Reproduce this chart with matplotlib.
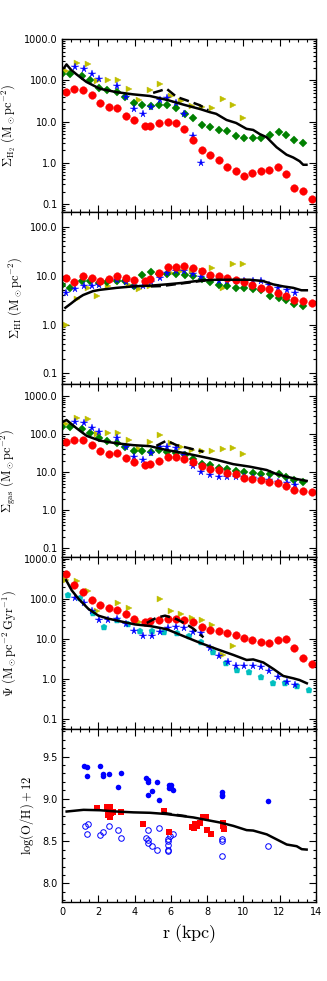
import numpy as np
import matplotlib
matplotlib.use("Agg")
import matplotlib.pyplot as plt
from matplotlib.ticker import FixedLocator, FormatStrFormatter, MultipleLocator, LogLocator, NullFormatter

plt.rcParams['mathtext.fontset'] = 'cm'

# radii of the point sets (kpc)
r_red = [0.2, 0.68, 1.16, 1.64, 2.08, 2.56, 3.02, 3.5, 3.95, 4.56, 4.87, 5.35, 5.83, 6.31, 6.75,
         7.21, 7.69, 8.15, 8.63, 9.1, 9.57, 10.05, 10.5, 10.98, 11.44, 11.92, 12.36, 12.82, 13.3, 13.78]
r_yel = [0.2, 0.83, 1.4, 1.95, 2.52, 3.1, 3.67, 4.25, 4.84, 5.41, 5.98, 6.57, 7.14, 7.71, 8.28, 8.85, 9.42, 10.0]
r_yel_sfr = [0.2, 0.83, 1.4, 1.95, 3.1, 3.67, 4.25, 5.41, 5.98, 6.57, 7.14, 7.71, 8.28, 8.85, 9.42]
r_grn = [0.0, 0.46, 1.09, 1.56, 2.02, 2.48, 3.0, 3.46, 3.95, 4.43, 4.93, 5.35, 5.79, 6.29, 6.77,
         7.23, 7.71, 8.18, 8.66, 9.12, 9.58, 10.06, 10.52, 10.96, 11.46, 11.94, 12.36, 12.82, 13.3]
r_blu_h2 = [0.7, 1.2, 1.65, 2.04, 3.0, 3.5, 3.97, 4.47, 4.93, 5.41, 5.81, 6.27, 6.73, 7.21, 7.67]
r_blu = [0.24, 0.7, 1.2, 1.65, 2.04, 3.0, 3.5, 3.97, 4.47, 4.93, 5.41, 5.81, 6.27, 6.73, 7.21, 7.67,
         8.15, 8.63, 9.12, 9.6, 10.06, 10.52, 10.98, 11.42, 11.9, 12.38, 12.86]
r_blu_sfr = [0.72, 1.21, 1.67, 2.06, 2.54, 3.01, 3.5, 3.99, 4.48, 4.94, 5.42, 5.83, 6.29, 6.75, 7.22,
             7.68, 8.16, 8.63, 9.13, 9.6, 10.06, 10.52, 10.99, 11.43, 11.91, 12.39, 12.87]
r_cyan = [0.33, 1.0, 1.69, 2.33, 3.01, 3.66, 4.3, 4.98, 5.64, 6.32, 7.0, 7.67, 8.35, 9.03, 9.67,
          10.33, 10.99, 11.65, 12.32, 12.98, 13.64]

# H2 surface density
h2_red = [52, 63, 60, 44, 29, 22.6, 22, 14, 10.9, 7.9, 7.9, 9.5, 10, 9.1, 6.7, 3.6, 2.1, 1.58, 1.19,
          0.80, 0.64, 0.47, 0.57, 0.64, 0.68, 0.78, 0.53, 0.25, 0.21, 0.135]
h2_yel = [171, 258, 245, 96, 100, 100, 63, 34, 58, 84, 43, 32, 23.5, 22.5, 21.5, 35, 26, 12.4]
h2_grn = [140, 147, 130, 100, 67, 58, 52, 40, 29, 26, 23.4, 26, 25, 21.7, 15.5, 12, 8.4, 7.4, 6.3,
          5.8, 4.6, 4.0, 4.0, 4.0, 4.7, 5.6, 4.7, 3.6, 3.1]
h2_blu = [211, 185, 141, 109, 74, 40, 20, 15, 22.4, 34, 37, 28, 15.5, 4.5, 1.02]

# HI surface density
hi_red = [9.0, 7.5, 9.6, 9.0, 7.6, 8.5, 10, 9.0, 8.2, 7.6, 8.3, 11.2, 14.8, 14.8, 15.5, 14, 12.3,
          10.2, 10, 8.9, 8.0, 7.3, 6.4, 5.6, 5.2, 4.4, 3.8, 3.1, 3.0, 2.75]
hi_yel = [1.0, 3.3, 5.5, 3.9, 6.2, 7.9, 6.5, 5.4, 6.0, 11.2, 11.2, 12.6, 12.6, 12.3, 14, 5.6, 16.8, 16.8]
hi_grn = [6.5, 5.6, 7.9, 7.9, 7.2, 7.5, 7.9, 7.7, 6.2, 10.4, 11.6, 10.5, 10.5, 10.7, 10.2, 9.6, 8.5,
          7.5, 6.4, 6.0, 5.6, 5.6, 5.2, 5.0, 3.9, 3.5, 3.1, 2.6, 2.4]
hi_blu = [4.5, 5.4, 6.0, 6.0, 6.4, 8.0, 7.4, 6.0, 6.0, 7.4, 8.9, 11.2, 12.2, 12.2, 10.5, 9.3, 9.0,
          7.9, 7.9, 7.9, 7.6, 7.9, 7.6, 6.3, 5.6, 5.0, 4.5]

# total gas surface density
gas_red = [60, 69, 69, 52, 36, 30.5, 31.6, 23, 18.8, 15.4, 16, 20, 24.4, 24.4, 22.5, 18, 14.5, 11.8,
           11.4, 9.7, 8.7, 7.0, 6.6, 6.1, 5.4, 5.1, 4.4, 3.5, 3.3, 2.95]
gas_yel = [183, 258, 247, 98, 104, 108, 70, 40, 63, 94, 57, 45, 38, 35, 35, 40, 42, 30]
gas_grn = [155, 150, 133, 104, 77, 67, 59, 46, 36, 35.6, 34, 38, 34, 32.4, 29, 21.6, 16.3, 15, 13,
           11.8, 10.7, 10, 9.7, 8.9, 8.9, 8.9, 7.6, 6.2, 5.6]
gas_blu = [202, 202, 190, 141, 110, 80, 47, 25.4, 21, 31, 47, 47, 42, 28, 14.8, 10.3, 8.4, 7.6, 7.6,
           7.6, 7.6, 6.9, 6.6, 6.2, 5.6, 5.3, 4.6]

# star formation rate surface density
sfr_red = [420, 216, 145, 92, 71, 59, 52, 41, 30.5, 27, 28, 30, 31, 31, 29.5, 25.8, 20, 16.8, 15.5,
           14.4, 12.3, 10.5, 9.2, 8.5, 8.0, 9.3, 9.7, 6.0, 3.35, 2.45]
sfr_yel = [290, 280, 160, 49, 79, 59, 26, 96, 51, 42, 33, 29.5, 22.4, 3.9, 6.6]
sfr_blu = [104, 80, 49, 30, 30, 31, 24, 16, 11.6, 11.6, 15.2, 18.3, 20, 18.5, 14.9, 14.4, 6.0, 3.7,
           2.7, 2.07, 2.07, 2.17, 2.0, 1.57, 1.11, 0.86, 0.71]
sfr_cyan = [121, 105, 44, 19.5, 29, 23, 16, 15.5, 15, 14, 11.8, 8.3, 4.7, 2.5, 1.7, 1.5, 1.1, 0.81,
            0.78, 0.68, 0.55]

# model profiles (solid) and second model (dashed)
mod_h2_r = [0.0, 0.1, 0.24, 0.5, 0.8, 1.34, 2.08, 3.0, 3.92, 4.84, 5.76, 6.68, 7.6, 8.15, 8.5, 9.07,
            9.6, 10.17, 10.54, 10.9, 11.28, 11.83, 12.38, 12.75, 13.1, 13.3, 13.48]
mod_h2 = [195, 200, 245, 180, 140, 92, 63, 52, 46, 42, 34, 26, 20.3, 17, 15.5, 11, 9.3, 6.7, 6.3,
          5.0, 4.2, 2.4, 1.58, 1.35, 1.1, 0.9, 0.9]
dash_h2_r = [5.02, 5.4, 5.76, 6.31, 6.86, 7.6, 8.06]
dash_h2 = [50, 56, 63, 40, 33, 25, 19]

mod_hi_r = [0.18, 0.5, 0.8, 1.16, 1.7, 2.08, 3.0, 3.92, 4.84, 5.76, 6.68, 7.6, 8.5, 9.44, 10.36,
            11.09, 11.64, 12.2, 12.75, 13.2, 13.5]
mod_hi = [2.2, 2.7, 3.3, 4.0, 4.8, 5.1, 5.6, 6.0, 6.2, 6.6, 7.1, 7.9, 8.2, 8.2, 8.2, 7.7, 6.6, 6.0,
          5.6, 5.0, 5.0]
dash_hi_r = [4.9, 5.5, 6.2, 7.0, 7.6, 8.0]
dash_hi = [6.0, 6.1, 6.6, 7.2, 7.7, 8.0]

mod_gas_r = [0.05, 0.24, 0.8, 1.36, 2.08, 3.0, 3.92, 4.84, 5.76, 6.68, 7.6, 8.52, 9.44, 10.36, 11.28,
             11.83, 12.38, 12.94, 13.49]
mod_gas = [210, 233, 141, 89, 67, 57, 51, 48, 38, 32, 26, 21, 16.2, 13.9, 11.4, 8.9, 7.6, 6.6, 5.9]
dash_gas_r = [5.2, 5.76, 6.31, 6.86, 7.6, 7.8]
dash_gas = [49, 67, 51, 44, 36, 34]

mod_sfr_r = [0.22, 0.53, 0.9, 1.45, 2.0, 2.55, 3.29, 4.02, 4.85, 5.77, 6.69, 7.61, 8.53, 9.45, 10.18,
             10.54, 11.1, 11.65, 12.2, 12.75, 13.1, 13.5]
mod_sfr = [290, 162, 100, 56, 38, 32, 27, 23, 21, 17.5, 11.8, 8.0, 5.6, 4.0, 3.0, 3.1, 2.6, 1.8, 1.2,
           1.05, 0.95, 0.79]
dash_sfr_r = [4.67, 5.22, 5.68, 6.32, 6.87, 7.24, 7.6, 7.8]
dash_sfr = [25, 34, 38, 31, 23, 18, 13, 11]

mod_oh_r = [0.25, 1.18, 2.1, 3.0, 3.93, 4.85, 5.77, 6.5, 7.24, 7.97, 8.71, 9.45, 10.18, 10.54, 11.29,
            11.84, 12.39, 12.94, 13.22, 13.49]
mod_oh = [8.85, 8.87, 8.865, 8.85, 8.84, 8.835, 8.82, 8.80, 8.78, 8.75, 8.72, 8.68, 8.63, 8.625, 8.58,
          8.52, 8.46, 8.44, 8.405, 8.40]
dash_oh_r = [5.5, 6.0, 6.5, 7.0]
dash_oh = [8.835, 8.82, 8.805, 8.79]

# oxygen abundances
oh_fill_r = [1.23, 1.38, 1.38, 2.11, 2.24, 2.24, 2.61, 3.23, 3.1, 4.61, 4.72, 4.72, 4.74, 4.98, 5.24,
             5.37, 5.88, 6.0, 5.88, 6.0, 6.1, 8.84, 8.84, 8.84, 11.34]
oh_fill = [9.39, 9.38, 9.27, 9.39, 9.29, 9.27, 9.29, 9.31, 9.14, 9.25, 9.22, 9.20, 9.05, 9.09, 9.20,
           8.99, 9.16, 9.16, 9.13, 9.13, 9.10, 9.08, 9.05, 9.03, 8.97]
oh_sq_r = [1.93, 2.5, 2.65, 2.55, 2.62, 2.7, 2.83, 3.23, 4.47, 5.62, 5.92, 7.19, 7.28, 7.35, 7.45,
           7.61, 7.79, 7.92, 8.01, 8.2, 8.86, 8.9, 8.95]
oh_sq = [8.89, 8.905, 8.905, 8.81, 8.79, 8.83, 8.85, 8.84, 8.70, 8.855, 8.61, 8.67, 8.66, 8.70, 8.68,
         8.72, 8.79, 8.79, 8.63, 8.58, 8.68, 8.72, 8.64]
oh_open_r = [1.25, 1.40, 1.38, 2.11, 2.24, 2.61, 3.11, 3.24, 4.6, 4.74, 4.76, 4.76, 4.98, 5.26, 5.37,
             5.86, 5.86, 5.86, 5.86, 5.86, 5.96, 6.1, 8.84, 8.84, 8.84, 11.34]
oh_open = [8.68, 8.70, 8.59, 8.57, 8.61, 8.68, 8.63, 8.54, 8.54, 8.63, 8.51, 8.48, 8.445, 8.40, 8.65,
           8.53, 8.50, 8.46, 8.40, 8.38, 8.56, 8.59, 8.53, 8.50, 8.32, 8.44]

fig, axes = plt.subplots(5, 1, sharex=True, figsize=(3.27, 9.81), dpi=100)
fig.subplots_adjust(left=0.19, right=0.966, top=0.960, bottom=0.0805, hspace=0)

ms_red = 5.5
ms_tri = 5
ms_star = 5.5
ms_grn = 4
lw = 1.8


def pts(ax, x, y, color, marker, ms):
    ax.plot(x, y, linestyle='none', marker=marker, color=color, markersize=ms,
            markeredgecolor=color, markeredgewidth=0.3)


def models(ax, xs, ys, xd, yd):
    ax.plot(xs, ys, color='k', lw=lw)
    ax.plot(xd, yd, color='k', lw=lw, ls='--', dashes=(4, 2))


# panel 1: H2
ax = axes[0]
pts(ax, r_yel, h2_yel, 'y', '>', ms_tri)
pts(ax, r_grn, h2_grn, 'g', 'D', ms_grn)
pts(ax, r_blu_h2, h2_blu, 'b', '*', ms_star)
pts(ax, r_red, h2_red, 'r', 'o', ms_red)
models(ax, mod_h2_r, mod_h2, dash_h2_r, dash_h2)

# panel 2: HI
ax = axes[1]
pts(ax, r_yel, hi_yel, 'y', '>', ms_tri)
pts(ax, r_grn, hi_grn, 'g', 'D', ms_grn)
pts(ax, r_blu, hi_blu, 'b', '*', ms_star)
pts(ax, r_red, hi_red, 'r', 'o', ms_red)
models(ax, mod_hi_r, mod_hi, dash_hi_r, dash_hi)

# panel 3: gas
ax = axes[2]
pts(ax, r_yel, gas_yel, 'y', '>', ms_tri)
pts(ax, r_grn, gas_grn, 'g', 'D', ms_grn)
pts(ax, r_blu[1:], gas_blu[1:], 'b', '*', ms_star)
pts(ax, r_red, gas_red, 'r', 'o', ms_red)
models(ax, mod_gas_r, mod_gas, dash_gas_r, dash_gas)

# panel 4: SFR
ax = axes[3]
pts(ax, r_yel_sfr, sfr_yel, 'y', '>', ms_tri)
pts(ax, r_cyan, sfr_cyan, 'c', 'p', ms_tri)
pts(ax, r_blu_sfr, sfr_blu, 'b', '*', ms_star)
pts(ax, r_red, sfr_red, 'r', 'o', ms_red)
models(ax, mod_sfr_r, mod_sfr, dash_sfr_r, dash_sfr)

# panel 5: metallicity
ax = axes[4]
ax.plot(oh_fill_r, oh_fill, 'o', color='b', markersize=4, markeredgewidth=0)
ax.plot(oh_open_r, oh_open, 'o', markerfacecolor='none', markeredgecolor='b', markersize=4,
        markeredgewidth=0.7)
ax.plot(oh_sq_r, oh_sq, 's', color='r', markersize=5, markeredgewidth=0)
models(ax, mod_oh_r, mod_oh, dash_oh_r, dash_oh)

ylabels = [r'$\Sigma_{\rm H_2}\ ({\rm M_\odot pc^{-2}})$',
           r'$\Sigma_{\rm HI}\ ({\rm M_\odot pc^{-2}})$',
           r'$\Sigma_{\rm gas}\ ({\rm M_\odot pc^{-2}})$',
           r'$\Psi\ ({\rm M_\odot pc^{-2}\,Gyr^{-1}})$',
           r'$\log({\rm O/H})+12$']
ylims = [(0.065, 1000), (0.06, 200), (0.06, 2000), (0.056, 1100), (7.78, 9.82)]
yticks = [[0.1, 1, 10, 100, 1000], [0.1, 1, 10, 100], [0.1, 1, 10, 100, 1000],
          [0.1, 1, 10, 100, 1000], [8.0, 8.5, 9.0, 9.5]]

for i, ax in enumerate(axes):
    if i < 4:
        ax.set_yscale('log')
        ax.yaxis.set_minor_locator(LogLocator(base=10, subs=np.arange(2, 10)))
        ax.yaxis.set_minor_formatter(NullFormatter())
    else:
        ax.yaxis.set_minor_locator(MultipleLocator(0.1))
    ax.yaxis.set_major_locator(FixedLocator(yticks[i]))
    ax.yaxis.set_major_formatter(FormatStrFormatter('%.1f'))
    ax.set_ylim(*ylims[i])
    ax.set_ylabel(ylabels[i], fontsize=9)
    ax.tick_params(which='both', direction='in', top=True, right=True, labelsize=7, width=0.8)
    ax.tick_params(which='major', length=5)
    ax.tick_params(which='minor', length=2.5)
    for s in ax.spines.values():
        s.set_linewidth(1.0)

axes[-1].set_xlim(0, 14)
axes[-1].xaxis.set_major_locator(MultipleLocator(2))
axes[-1].xaxis.set_minor_locator(MultipleLocator(0.5))
axes[-1].set_xlabel(r'${\rm r\ (kpc)}$', fontsize=13)

fig.savefig('out.png', dpi=100)
